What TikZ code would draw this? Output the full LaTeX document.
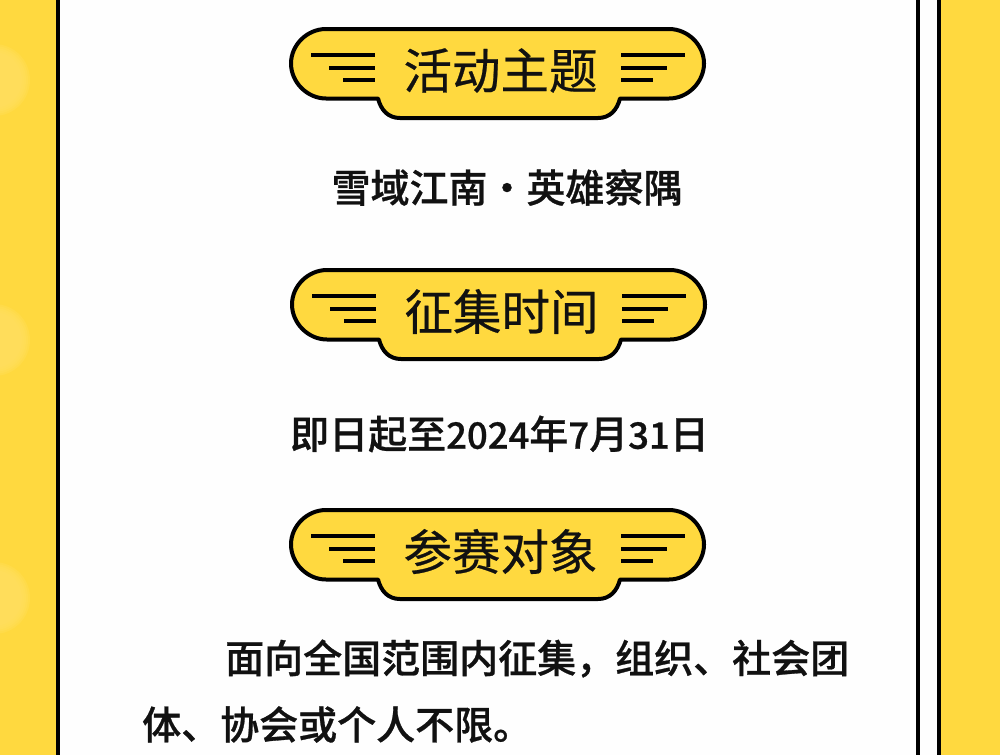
\documentclass[tikz,border=0pt]{standalone}
\usepackage{fontspec}
\newfontfamily\cjkhead[FakeBold=0.5]{Noto Sans CJK SC}
\newfontfamily\cjkbody[FakeBold=0.7]{Noto Sans CJK SC Medium}
\definecolor{sun}{HTML}{FFD93F}
\definecolor{glow}{HTML}{FFE062}
\definecolor{ink}{HTML}{111111}
\newcommand{\digs}[1]{{\fontsize{36.5}{36.5}\selectfont #1}}
\tikzset{
  x=1pt,y=-1pt,
  wingbox/.style={draw=black,line width=4pt,fill=sun,line join=round},
  wingline/.style={draw=black,line width=3.4pt},
  heading/.style={font=\cjkhead\fontsize{48.5}{48.5}\selectfont,text=ink,inner sep=0pt,anchor=center},
  body/.style={font=\cjkbody\fontsize{39}{39}\selectfont,text=ink,inner sep=0pt},
  rail/.style={fill=black,draw=none},
  blob/.style={fill=glow,draw=none,opacity=.3},
}
\newcommand{\wingbanner}[4]{%
  \begin{scope}[shift={(#1,#2)}]
    \draw[wingbox] (35,0) -- (378,0)
      .. controls (397,0) and (413,16) .. (413,34.5)
      .. controls (413,53) and (397,69.5) .. (378,69.5) -- (329,69.5)
      .. controls (326,81) and (319,89) .. (307,89) -- (109,89)
      .. controls (97,89) and (90,81) .. (87,69.5) -- (35,69.5)
      .. controls (16,69.5) and (0,53) .. (0,34.5)
      .. controls (0,16) and (16,0) .. (35,0) -- cycle;
    \draw[wingline] (20,26) -- (84,26);
    \draw[wingline] (38,39) -- (84,39);
    \draw[wingline] (52,51) -- (84,51);
    \draw[wingline] (330,26) -- (394,26);
    \draw[wingline] (330,39) -- (376,39);
    \draw[wingline] (330,51) -- (362,51);
    \node[heading] (#4) at (209.5,41.5) {#3};
  \end{scope}}
\begin{document}
\begin{tikzpicture}
\useasboundingbox (0,0) rectangle (1000,755);
\fill[white!99.5!black] (0,0) rectangle (1000,755);
\fill[sun] (0,0) rectangle (56,755);
\fill[sun] (941,0) rectangle (1000,755);
\foreach \cy in {80,340,598}{
  \foreach \r in {36,34,32,30,28}{
    \fill[blob] (-6,\cy) circle[radius=\r];
  }
}
\fill[rail] (56,0) rectangle (60,755);
\fill[rail] (916,0) rectangle (920,755);
\fill[rail] (937,0) rectangle (941,755);
\wingbanner{291}{29}{活动主题}{titleA}
\wingbanner{292}{270}{征集时间}{titleB}
\wingbanner{291}{510}{参赛对象}{titleC}
\node[body,anchor=center] (theme) at (507,187.5) {雪域江南·英雄察隅};
\node[body,anchor=center] (dates) at (499.5,434) {即日起至\digs{2024}年\digs{7}月\digs{31}日};
\node[body,anchor=west] (lineA) at (225,658.5) {面向全国范围内征集，组织、社会团};
\node[body,anchor=west] (lineB) at (142,724.5) {体、协会或个人不限。};
\end{tikzpicture}
\end{document}
